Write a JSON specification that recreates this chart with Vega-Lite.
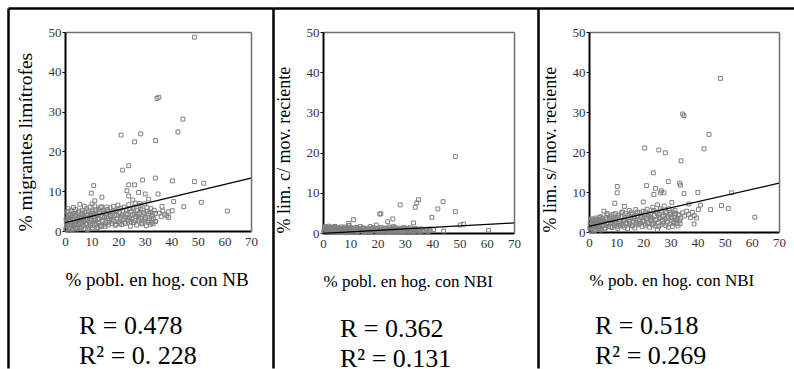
{
  "$schema": "https://vega.github.io/schema/vega-lite/v6.json",
  "padding": {"left": 5, "top": 8, "right": 0, "bottom": 0},
  "background": "white",
  "bounds": "flush",
  "spacing": 0,
  "config": {
    "view": {"stroke": null},
    "font": "Liberation Serif",
    "axis": {"grid": false, "labelFont": "Liberation Serif", "titleFont": "Liberation Serif", "labelFlush": false, "labelOverlap": false, "titleFontWeight": "normal", "titleColor": "black", "labelColor": "#333333"},
    "title": {"font": "Liberation Serif"}
  },
  "datasets": {
    "p1": [
      {"x":0.3,"y":0.5},{"x":0.5,"y":2.1},{"x":0.6,"y":3.8},{"x":0.8,"y":1.2},{"x":1.0,"y":4.9},{"x":1.1,"y":2.7},{"x":1.3,"y":0.3},{"x":1.5,"y":3.3},{"x":1.6,"y":1.8},{"x":1.8,"y":4.2},{"x":2.0,"y":0.9},{"x":2.1,"y":2.5},{"x":2.3,"y":5.1},{"x":2.5,"y":1.5},{"x":2.6,"y":3.6},{"x":2.8,"y":0.4},{"x":3.0,"y":2.9},{"x":3.1,"y":4.5},{"x":3.3,"y":1.1},{"x":3.5,"y":2.2},{"x":3.7,"y":3.9},{"x":3.9,"y":0.7},{"x":4.0,"y":5.4},{"x":4.2,"y":1.9},{"x":4.4,"y":3.1},{"x":4.6,"y":2.4},{"x":4.8,"y":0.9},{"x":5.0,"y":4.6},
      {"x":5.2,"y":1.6},{"x":5.4,"y":3.4},{"x":5.6,"y":6.7},{"x":5.8,"y":2.7},{"x":6.0,"y":0.8},{"x":6.2,"y":4.0},{"x":6.4,"y":2.0},{"x":6.6,"y":5.2},{"x":6.8,"y":1.3},{"x":7.0,"y":3.6},{"x":7.2,"y":2.5},{"x":7.4,"y":4.8},{"x":7.6,"y":0.6},{"x":7.8,"y":3.0},{"x":8.0,"y":1.8},{"x":8.2,"y":5.6},{"x":8.4,"y":2.9},{"x":8.6,"y":4.2},{"x":8.8,"y":1.0},{"x":9.0,"y":3.5},{"x":9.2,"y":2.2},{"x":9.4,"y":6.0},{"x":9.6,"y":1.5},{"x":9.8,"y":4.5},
      {"x":10.1,"y":2.8},{"x":10.3,"y":0.9},{"x":10.5,"y":5.0},{"x":10.8,"y":3.7},{"x":11.0,"y":1.9},{"x":11.2,"y":6.3},{"x":11.4,"y":2.6},{"x":11.7,"y":4.1},{"x":12.0,"y":0.8},{"x":12.2,"y":3.2},{"x":12.5,"y":5.4},{"x":12.7,"y":2.1},{"x":13.0,"y":4.6},{"x":13.2,"y":1.4},{"x":13.5,"y":3.8},{"x":13.8,"y":6.1},{"x":14.0,"y":2.4},{"x":14.3,"y":5.0},{"x":14.6,"y":1.7},{"x":14.9,"y":3.4},
      {"x":15.2,"y":4.4},{"x":15.4,"y":2.0},{"x":15.7,"y":6.0},{"x":16.0,"y":3.1},{"x":16.3,"y":1.5},{"x":16.5,"y":4.9},{"x":16.8,"y":2.7},{"x":17.0,"y":5.8},{"x":17.3,"y":3.6},{"x":17.6,"y":1.9},{"x":17.9,"y":4.3},{"x":18.2,"y":6.2},{"x":18.4,"y":2.5},{"x":18.7,"y":3.9},{"x":19.0,"y":5.1},{"x":19.3,"y":1.7},{"x":19.6,"y":3.0},{"x":19.9,"y":6.5},
      {"x":20.2,"y":2.3},{"x":20.5,"y":4.6},{"x":20.8,"y":3.4},{"x":21.0,"y":5.7},{"x":21.3,"y":1.6},{"x":21.6,"y":4.0},{"x":21.9,"y":2.8},{"x":22.2,"y":6.0},{"x":22.5,"y":3.5},{"x":22.8,"y":1.9},{"x":23.1,"y":5.2},{"x":23.4,"y":4.1},{"x":23.7,"y":2.6},{"x":24.0,"y":6.6},{"x":24.3,"y":3.3},{"x":24.6,"y":1.2},{"x":24.9,"y":4.8},
      {"x":25.2,"y":3.0},{"x":25.5,"y":5.6},{"x":25.8,"y":2.1},{"x":26.1,"y":4.3},{"x":26.4,"y":7.0},{"x":26.7,"y":3.7},{"x":27.0,"y":1.5},{"x":27.3,"y":5.1},{"x":27.6,"y":2.8},{"x":27.9,"y":4.5},{"x":28.2,"y":6.4},{"x":28.5,"y":3.2},{"x":28.8,"y":1.8},{"x":29.1,"y":5.3},{"x":29.4,"y":2.5},{"x":29.7,"y":4.0},{"x":30.0,"y":6.8},
      {"x":30.3,"y":3.4},{"x":30.6,"y":1.3},{"x":30.9,"y":5.0},{"x":31.2,"y":2.6},{"x":31.5,"y":4.4},{"x":31.8,"y":3.0},{"x":32.1,"y":1.7},{"x":32.4,"y":5.6},{"x":32.7,"y":2.2},{"x":33.0,"y":4.0},{"x":33.3,"y":3.1},{"x":33.6,"y":5.2},{"x":34.0,"y":2.4},
      {"x":35.5,"y":4.5},{"x":36.2,"y":3.6},{"x":36.8,"y":5.0},{"x":37.5,"y":4.2},{"x":38.3,"y":3.8},{"x":39.0,"y":4.8},
      {"x":0.4,"y":3.0},{"x":0.9,"y":2.4},{"x":1.2,"y":5.6},{"x":1.7,"y":0.8},{"x":2.2,"y":3.9},{"x":2.7,"y":2.0},{"x":3.2,"y":5.9},{"x":3.6,"y":1.6},{"x":4.1,"y":4.3},{"x":4.5,"y":0.5},{"x":4.9,"y":2.8},{"x":5.3,"y":5.0},{"x":5.7,"y":1.1},{"x":6.1,"y":3.2},{"x":6.5,"y":4.5},{"x":6.9,"y":2.3},{"x":7.3,"y":6.2},{"x":7.7,"y":1.9},{"x":8.1,"y":3.9},{"x":8.5,"y":0.4},{"x":8.9,"y":5.0},{"x":9.3,"y":2.7},{"x":9.7,"y":3.9},{"x":10.2,"y":1.4},{"x":10.6,"y":4.4},{"x":11.1,"y":3.1},{"x":11.5,"y":5.3},{"x":11.9,"y":1.5},{"x":12.4,"y":4.0},{"x":12.9,"y":2.9},{"x":13.3,"y":5.9},{"x":13.7,"y":1.1},{"x":14.2,"y":3.6},{"x":14.7,"y":4.7},{"x":15.1,"y":1.2},{"x":15.5,"y":3.5},{"x":16.1,"y":5.4},{"x":16.6,"y":2.2},{"x":17.1,"y":4.0},{"x":17.7,"y":2.9},{"x":18.3,"y":4.8},{"x":18.9,"y":1.4},{"x":19.4,"y":4.2},{"x":20.0,"y":5.5},{"x":20.6,"y":1.9},{"x":21.2,"y":3.8},{"x":21.8,"y":5.0},{"x":22.4,"y":2.2},{"x":23.0,"y":4.4},{"x":23.6,"y":3.0},{"x":24.2,"y":5.6},{"x":24.8,"y":2.4},{"x":25.4,"y":4.1},{"x":26.0,"y":6.0},{"x":26.6,"y":2.6},{"x":27.2,"y":4.2},{"x":27.8,"y":3.5},{"x":28.4,"y":5.5},{"x":29.0,"y":2.0},{"x":29.6,"y":4.6},{"x":30.2,"y":3.0},{"x":30.8,"y":5.9},{"x":31.4,"y":2.2},{"x":32.0,"y":4.8},{"x":32.6,"y":3.6},{"x":33.2,"y":1.8},{"x":33.9,"y":4.4},
      {"x":48.7,"y":48.7},{"x":35.3,"y":33.6},{"x":34.6,"y":33.3},{"x":44.4,"y":28.1},{"x":21.1,"y":24.1},{"x":28.5,"y":24.4},{"x":26.2,"y":22.4},{"x":34.1,"y":22.7},{"x":42.5,"y":24.9},{"x":24.0,"y":16.4},{"x":21.7,"y":15.3},{"x":29.2,"y":12.8},{"x":34.0,"y":13.3},{"x":40.4,"y":12.6},{"x":48.7,"y":12.4},{"x":52.2,"y":12.0},{"x":10.8,"y":11.4},{"x":24.0,"y":11.6},{"x":26.2,"y":11.6},{"x":30.2,"y":9.3},{"x":9.9,"y":9.5},{"x":13.9,"y":8.5},{"x":27.7,"y":9.7},{"x":35.0,"y":9.3},{"x":40.9,"y":7.4},{"x":44.7,"y":6.1},{"x":51.3,"y":7.2},{"x":61.1,"y":5.0},{"x":40.3,"y":5.1},{"x":39.0,"y":3.4},{"x":34.0,"y":2.4},{"x":12.4,"y":0.9},{"x":23.3,"y":10.1},{"x":24.0,"y":8.8},{"x":11.2,"y":7.6},{"x":10.2,"y":6.8},{"x":25.5,"y":7.8},{"x":31.5,"y":8.0},{"x":28.0,"y":6.9},{"x":36.5,"y":6.2}
    ],
    "p2": [
      {"x":0.3,"y":0.2},{"x":0.5,"y":1.1},{"x":0.7,"y":0.5},{"x":0.9,"y":1.6},{"x":1.1,"y":0.1},{"x":1.3,"y":0.8},{"x":1.5,"y":1.3},{"x":1.7,"y":0.3},{"x":1.9,"y":0.9},{"x":2.1,"y":1.7},{"x":2.3,"y":0.4},{"x":2.5,"y":1.0},{"x":2.7,"y":0.2},{"x":2.9,"y":1.4},{"x":3.1,"y":0.6},{"x":3.3,"y":1.2},{"x":3.5,"y":0.1},{"x":3.7,"y":0.7},{"x":3.9,"y":1.5},{"x":4.1,"y":0.3},{"x":4.3,"y":1.0},{"x":4.5,"y":0.5},{"x":4.7,"y":1.3},{"x":4.9,"y":0.2},
      {"x":5.2,"y":0.8},{"x":5.5,"y":1.4},{"x":5.8,"y":0.3},{"x":6.1,"y":1.0},{"x":6.4,"y":0.6},{"x":6.7,"y":1.5},{"x":7.0,"y":0.2},{"x":7.3,"y":0.9},{"x":7.6,"y":1.2},{"x":7.9,"y":0.4},{"x":8.2,"y":1.1},{"x":8.5,"y":0.1},{"x":8.8,"y":0.7},{"x":9.1,"y":1.3},{"x":9.4,"y":0.5},{"x":9.7,"y":0.9},
      {"x":10.0,"y":0.3},{"x":10.4,"y":1.2},{"x":10.8,"y":0.6},{"x":11.2,"y":1.0},{"x":11.6,"y":0.2},{"x":12.0,"y":0.8},{"x":12.4,"y":1.4},{"x":12.8,"y":0.4},{"x":13.2,"y":0.9},{"x":13.6,"y":0.1},{"x":14.0,"y":0.7},{"x":14.4,"y":1.1},{"x":14.8,"y":0.3},
      {"x":15.2,"y":0.9},{"x":15.6,"y":0.5},{"x":16.0,"y":1.2},{"x":16.4,"y":0.2},{"x":16.8,"y":0.8},{"x":17.2,"y":1.0},{"x":17.6,"y":0.4},{"x":18.0,"y":0.7},{"x":18.4,"y":1.3},{"x":18.8,"y":0.2},{"x":19.2,"y":0.9},{"x":19.6,"y":0.5},
      {"x":20.0,"y":1.1},{"x":20.4,"y":0.3},{"x":20.8,"y":0.8},{"x":21.2,"y":1.4},{"x":21.6,"y":0.5},{"x":22.0,"y":1.0},{"x":22.4,"y":0.2},{"x":22.8,"y":0.7},{"x":23.2,"y":1.2},{"x":23.6,"y":0.4},{"x":24.0,"y":0.9},{"x":24.4,"y":1.5},{"x":24.8,"y":0.3},
      {"x":25.2,"y":0.8},{"x":25.6,"y":1.1},{"x":26.0,"y":0.5},{"x":26.4,"y":1.3},{"x":26.8,"y":0.2},{"x":27.2,"y":0.9},{"x":27.6,"y":0.6},{"x":28.0,"y":1.2},{"x":28.4,"y":0.3},{"x":28.8,"y":1.0},{"x":29.2,"y":0.7},{"x":29.6,"y":1.4},{"x":30.0,"y":0.4},
      {"x":30.4,"y":0.9},{"x":30.8,"y":1.2},{"x":31.2,"y":0.5},{"x":31.6,"y":0.8},{"x":32.0,"y":1.3},{"x":32.4,"y":0.2},{"x":32.8,"y":0.7},{"x":33.2,"y":1.0},{"x":33.6,"y":0.4},{"x":34.0,"y":1.1},{"x":34.5,"y":0.6},{"x":35.0,"y":0.9},{"x":35.6,"y":0.3},{"x":36.2,"y":1.0},{"x":37.0,"y":0.5},{"x":37.8,"y":0.8},{"x":38.5,"y":0.3},{"x":39.3,"y":0.6},
      {"x":0.4,"y":0.6},{"x":0.8,"y":1.3},{"x":1.2,"y":0.4},{"x":1.6,"y":1.0},{"x":2.0,"y":0.2},{"x":2.4,"y":1.4},{"x":2.8,"y":0.7},{"x":3.2,"y":0.1},{"x":3.6,"y":1.1},{"x":4.0,"y":0.6},{"x":4.4,"y":1.6},{"x":4.8,"y":0.9},{"x":5.4,"y":0.3},{"x":5.9,"y":1.2},{"x":6.3,"y":0.5},{"x":6.9,"y":1.0},{"x":7.4,"y":0.3},{"x":7.8,"y":1.5},{"x":8.3,"y":0.6},{"x":8.7,"y":1.0},{"x":9.3,"y":0.2},{"x":9.9,"y":1.3},{"x":10.6,"y":0.5},{"x":11.4,"y":1.3},{"x":12.2,"y":0.3},{"x":12.9,"y":1.1},{"x":13.8,"y":0.6},{"x":14.6,"y":1.3},{"x":15.4,"y":0.3},{"x":16.2,"y":0.8},{"x":17.0,"y":0.4},{"x":17.8,"y":1.1},{"x":18.6,"y":0.6},{"x":19.4,"y":1.2},{"x":20.2,"y":0.4},{"x":21.0,"y":1.0},{"x":21.8,"y":0.3},{"x":22.6,"y":1.2},{"x":23.4,"y":0.7},{"x":24.2,"y":0.3},{"x":25.0,"y":1.2},{"x":25.8,"y":0.4},{"x":26.6,"y":0.9},{"x":27.4,"y":0.3},{"x":28.2,"y":0.8},{"x":29.0,"y":0.4},{"x":29.8,"y":1.1},{"x":30.6,"y":0.2},{"x":31.4,"y":1.0},{"x":32.2,"y":0.6},{"x":33.0,"y":0.3},{"x":33.8,"y":0.8},{"x":35.3,"y":0.5},{"x":36.6,"y":0.7},
      {"x":48.5,"y":19.0},{"x":28.3,"y":7.0},{"x":33.8,"y":6.4},{"x":34.4,"y":7.5},{"x":35.0,"y":8.3},{"x":44.0,"y":7.8},{"x":42.1,"y":6.0},{"x":48.5,"y":5.3},{"x":39.9,"y":3.9},{"x":20.8,"y":4.7},{"x":21.2,"y":4.8},{"x":11.2,"y":3.3},{"x":23.7,"y":2.8},{"x":25.6,"y":3.5},{"x":9.4,"y":2.4},{"x":33.2,"y":2.5},{"x":51.5,"y":2.2},{"x":50.3,"y":2.0},{"x":60.7,"y":0.7},{"x":44.2,"y":0.5},{"x":40.5,"y":0.8},{"x":38.9,"y":1.0},{"x":13.7,"y":1.6},{"x":17.3,"y":1.6},{"x":19.5,"y":2.0},{"x":25.9,"y":1.6},{"x":9.6,"y":1.9}
    ],
    "p3": [
      {"x":0.3,"y":1.0},{"x":0.5,"y":2.6},{"x":0.7,"y":0.4},{"x":0.9,"y":3.3},{"x":1.1,"y":1.7},{"x":1.3,"y":2.2},{"x":1.5,"y":0.8},{"x":1.7,"y":3.0},{"x":1.9,"y":1.4},{"x":2.1,"y":2.7},{"x":2.3,"y":0.6},{"x":2.5,"y":3.5},{"x":2.7,"y":1.9},{"x":2.9,"y":1.1},{"x":3.1,"y":2.4},{"x":3.3,"y":3.1},{"x":3.5,"y":0.9},{"x":3.7,"y":2.0},{"x":3.9,"y":3.7},{"x":4.1,"y":1.3},{"x":4.3,"y":2.8},{"x":4.5,"y":0.5},{"x":4.7,"y":2.3},{"x":4.9,"y":3.4},
      {"x":5.2,"y":1.6},{"x":5.5,"y":5.2},{"x":5.8,"y":2.5},{"x":6.1,"y":1.0},{"x":6.4,"y":3.6},{"x":6.7,"y":2.1},{"x":7.0,"y":4.3},{"x":7.3,"y":1.4},{"x":7.6,"y":3.0},{"x":7.9,"y":2.4},{"x":8.2,"y":4.0},{"x":8.5,"y":1.1},{"x":8.8,"y":2.8},{"x":9.1,"y":3.5},{"x":9.4,"y":1.7},{"x":9.7,"y":4.6},
      {"x":10.0,"y":2.2},{"x":10.3,"y":3.2},{"x":10.6,"y":0.9},{"x":10.9,"y":4.2},{"x":11.2,"y":2.6},{"x":11.5,"y":1.5},{"x":11.8,"y":3.8},{"x":12.1,"y":2.0},{"x":12.4,"y":5.0},{"x":12.7,"y":2.9},{"x":13.0,"y":1.2},{"x":13.3,"y":3.5},{"x":13.6,"y":4.6},{"x":13.9,"y":2.3},{"x":14.2,"y":0.8},{"x":14.5,"y":3.1},{"x":14.8,"y":5.4},
      {"x":15.1,"y":2.0},{"x":15.4,"y":3.7},{"x":15.7,"y":1.5},{"x":16.0,"y":4.4},{"x":16.3,"y":2.7},{"x":16.6,"y":3.3},{"x":16.9,"y":1.0},{"x":17.2,"y":5.6},{"x":17.5,"y":2.4},{"x":17.8,"y":4.0},{"x":18.1,"y":1.8},{"x":18.4,"y":3.0},{"x":18.7,"y":4.8},{"x":19.0,"y":2.2},{"x":19.3,"y":3.6},{"x":19.6,"y":1.3},{"x":19.9,"y":5.2},
      {"x":20.2,"y":2.8},{"x":20.5,"y":4.2},{"x":20.8,"y":1.7},{"x":21.1,"y":3.4},{"x":21.4,"y":5.7},{"x":21.7,"y":2.3},{"x":22.0,"y":3.9},{"x":22.3,"y":1.2},{"x":22.6,"y":4.6},{"x":22.9,"y":2.9},{"x":23.2,"y":3.5},{"x":23.5,"y":6.2},{"x":23.8,"y":2.0},{"x":24.1,"y":4.1},{"x":24.4,"y":1.5},{"x":24.7,"y":5.0},
      {"x":25.0,"y":3.1},{"x":25.3,"y":6.8},{"x":25.6,"y":2.4},{"x":25.9,"y":4.4},{"x":26.2,"y":3.6},{"x":26.5,"y":1.8},{"x":26.8,"y":5.3},{"x":27.1,"y":2.7},{"x":27.4,"y":4.0},{"x":27.7,"y":6.5},{"x":28.0,"y":3.2},{"x":28.3,"y":1.6},{"x":28.6,"y":4.8},{"x":28.9,"y":2.5},{"x":29.2,"y":3.8},{"x":29.5,"y":5.8},{"x":29.8,"y":2.0},
      {"x":30.1,"y":4.4},{"x":30.4,"y":3.0},{"x":30.7,"y":1.4},{"x":31.0,"y":5.0},{"x":31.3,"y":2.6},{"x":31.6,"y":3.7},{"x":31.9,"y":4.6},{"x":32.2,"y":2.1},{"x":32.5,"y":3.4},{"x":32.8,"y":1.5},{"x":33.1,"y":4.2},{"x":33.4,"y":2.8},{"x":33.8,"y":3.5},
      {"x":34.5,"y":4.8},{"x":35.2,"y":4.0},{"x":36.0,"y":5.2},{"x":36.7,"y":4.4},{"x":37.4,"y":3.6},{"x":38.1,"y":4.9},{"x":38.8,"y":4.1},{"x":39.6,"y":3.5},{"x":40.3,"y":5.6},
      {"x":0.4,"y":1.8},{"x":0.8,"y":0.9},{"x":1.2,"y":3.0},{"x":1.6,"y":2.0},{"x":2.0,"y":0.3},{"x":2.4,"y":2.4},{"x":2.8,"y":3.2},{"x":3.2,"y":1.6},{"x":3.6,"y":2.9},{"x":4.0,"y":0.8},{"x":4.4,"y":3.8},{"x":4.8,"y":1.8},{"x":5.3,"y":2.9},{"x":5.7,"y":0.7},{"x":6.2,"y":3.1},{"x":6.6,"y":4.6},{"x":7.1,"y":2.0},{"x":7.5,"y":3.5},{"x":8.0,"y":1.3},{"x":8.4,"y":2.9},{"x":8.9,"y":4.4},{"x":9.3,"y":2.2},{"x":9.8,"y":3.1},{"x":10.2,"y":1.4},{"x":10.7,"y":3.6},{"x":11.3,"y":2.2},{"x":11.9,"y":4.8},{"x":12.5,"y":1.6},{"x":13.1,"y":3.0},{"x":13.7,"y":2.0},{"x":14.3,"y":4.1},{"x":14.9,"y":2.6},{"x":15.5,"y":4.8},{"x":16.1,"y":1.6},{"x":16.7,"y":3.9},{"x":17.3,"y":2.9},{"x":17.9,"y":5.0},{"x":18.5,"y":2.1},{"x":19.1,"y":4.2},{"x":19.7,"y":2.7},{"x":20.3,"y":3.6},{"x":20.9,"y":5.0},{"x":21.5,"y":2.0},{"x":22.1,"y":4.4},{"x":22.7,"y":3.2},{"x":23.3,"y":1.8},{"x":23.9,"y":5.4},{"x":24.5,"y":3.0},{"x":25.1,"y":4.6},{"x":25.7,"y":1.4},{"x":26.3,"y":5.8},{"x":26.9,"y":3.9},{"x":27.5,"y":2.2},{"x":28.1,"y":5.1},{"x":28.7,"y":3.5},{"x":29.3,"y":1.2},{"x":29.9,"y":4.8},{"x":30.5,"y":3.6},{"x":31.1,"y":2.2},{"x":31.7,"y":5.4},{"x":32.3,"y":3.0},{"x":32.9,"y":4.4},{"x":33.6,"y":2.1},
      {"x":48.4,"y":38.4},{"x":34.5,"y":29.5},{"x":35.0,"y":29.1},{"x":20.5,"y":21.0},{"x":25.7,"y":20.5},{"x":28.1,"y":19.8},{"x":42.4,"y":20.8},{"x":44.2,"y":24.4},{"x":33.9,"y":17.8},{"x":23.7,"y":14.8},{"x":29.2,"y":12.6},{"x":33.4,"y":12.2},{"x":10.4,"y":11.4},{"x":10.4,"y":9.8},{"x":21.2,"y":11.6},{"x":24.5,"y":10.9},{"x":26.7,"y":10.3},{"x":33.7,"y":11.7},{"x":35.0,"y":9.6},{"x":40.1,"y":9.9},{"x":26.4,"y":9.8},{"x":27.6,"y":9.8},{"x":23.9,"y":9.4},{"x":44.8,"y":5.6},{"x":48.8,"y":6.6},{"x":51.3,"y":5.9},{"x":52.5,"y":9.8},{"x":61.1,"y":3.7},{"x":41.1,"y":6.75},{"x":38.7,"y":2.0},{"x":25.2,"y":0.6},{"x":9.5,"y":7.2},{"x":13.0,"y":6.4},{"x":30.5,"y":7.4},{"x":36.8,"y":7.0},{"x":20.0,"y":7.5}
    ],
    "l1": [{"x":0,"y":2.1},{"x":70,"y":13.3}],
    "l2": [{"x":0,"y":-0.1},{"x":70,"y":2.5}],
    "l3": [{"x":0,"y":1.4},{"x":70,"y":12.2}]
  },
  "hconcat": [
    {
      "width": 265, "height": 360,
      "title": {"text": ["R = 0.478", "R² = 0. 228"], "font": "Liberation Serif", "orient": "bottom", "frame": "group", "anchor": "start", "align": "left", "dx": 71, "offset": -55, "fontSize": 26, "fontWeight": "normal", "color": "black", "lineHeight": 30},
      "resolve": {"scale": {"x": "independent", "y": "independent"}},
      "layer": [
        {
          "data": {"name": "p1"},
          "mark": {"type": "point", "shape": "square", "filled": false, "size": 15, "stroke": "#808080", "strokeWidth": 1, "opacity": 1},
          "encoding": {
            "x": {"field": "x", "type": "quantitative", "scale": {"domain": [0, 70], "range": [57, 243], "nice": false},
                  "axis": {"orient": "bottom", "offset": -137, "values": [0,10,20,30,40,50,60,70], "ticks": false, "labelFont": "Liberation Serif", "labelColor": "#333333", "labelPadding": 4, "labelFontSize": 13, "domainColor": "black", "domainWidth": 2, "title": "% pobl. en hog. con NB", "titleFont": "Liberation Serif", "titleFontSize": 19, "titlePadding": 22, "titleAnchor": "start"}},
            "y": {"field": "y", "type": "quantitative", "scale": {"domain": [0, 50], "range": [223, 24], "nice": false},
                  "axis": {"orient": "left", "offset": -57, "values": [0,10,20,30,40,50], "tickSize": 3, "tickColor": "black", "labelFont": "Liberation Serif", "labelColor": "#333333", "labelPadding": 1, "labelFontSize": 13, "domainColor": "black", "domainWidth": 2, "title": "% migrantes limítrofes", "titleFont": "Liberation Serif", "titleFontSize": 19.5, "titlePadding": 13, "titleAnchor": "start"}}
          }
        },
        {
          "data": {"name": "l1"},
          "mark": {"type": "line", "color": "black", "strokeWidth": 1.2},
          "encoding": {
            "x": {"field": "x", "type": "quantitative", "scale": {"domain": [0, 70], "range": [57, 243], "nice": false}, "axis": null},
            "y": {"field": "y", "type": "quantitative", "scale": {"domain": [0, 50], "range": [223, 24], "nice": false}, "axis": null}
          }
        },
        {
          "data": {"name": "l1"},
          "mark": {"type": "point", "opacity": 0},
          "encoding": {
            "x": {"field": "x", "type": "quantitative", "scale": {"domain": [0, 70], "range": [57, 243], "nice": false}, "axis": {"orient": "top", "offset": -24, "labels": false, "ticks": false, "title": null, "domainColor": "#6e6e6e", "domainWidth": 1.5}},
            "y": {"field": "y", "type": "quantitative", "scale": {"domain": [0, 50], "range": [223, 24], "nice": false}, "axis": {"orient": "right", "offset": -22, "labels": false, "ticks": false, "title": null, "domainColor": "#6e6e6e", "domainWidth": 1.5}}
          }
        },
        {
          "data": {"name": "l1"},
          "mark": {"type": "point", "opacity": 0},
          "encoding": {
            "x": {"field": "x", "type": "quantitative", "scale": {"domain": [0, 70], "nice": false}, "axis": {"orient": "top", "offset": 0, "labels": false, "ticks": false, "title": null, "domainColor": "black", "domainWidth": 2.5}},
            "y": {"field": "y", "type": "quantitative", "scale": {"domain": [0, 50], "nice": false}, "axis": {"orient": "left", "offset": 0, "labels": false, "ticks": false, "title": null, "domainColor": "black", "domainWidth": 2.5}}
          }
        }
      ]
    },
    {
      "width": 265, "height": 360,
      "title": {"text": ["R = 0.362", "R² = 0.131"], "font": "Liberation Serif", "orient": "bottom", "frame": "group", "anchor": "start", "align": "left", "dx": 67, "offset": -55, "fontSize": 26, "fontWeight": "normal", "color": "black", "lineHeight": 30},
      "resolve": {"scale": {"x": "independent", "y": "independent"}},
      "layer": [
        {
          "data": {"name": "p2"},
          "mark": {"type": "point", "shape": "square", "filled": false, "size": 15, "stroke": "#808080", "strokeWidth": 1, "opacity": 1},
          "encoding": {
            "x": {"field": "x", "type": "quantitative", "scale": {"domain": [0, 70], "range": [50, 241], "nice": false},
                  "axis": {"orient": "bottom", "offset": -135, "values": [0,10,20,30,40,50,60,70], "ticks": false, "labelFont": "Liberation Serif", "labelColor": "#333333", "labelPadding": 4, "labelFontSize": 13, "domainColor": "black", "domainWidth": 2, "title": "% pobl. en hog. con NBI", "titleFont": "Liberation Serif", "titleFontSize": 17, "titlePadding": 23, "titleAnchor": "start"}},
            "y": {"field": "y", "type": "quantitative", "scale": {"domain": [0, 50], "range": [225, 24], "nice": false},
                  "axis": {"orient": "left", "offset": -50, "values": [0,10,20,30,40,50], "tickSize": 3, "tickColor": "black", "labelFont": "Liberation Serif", "labelColor": "#333333", "labelPadding": 1, "labelFontSize": 13, "domainColor": "black", "domainWidth": 2, "title": "% lim. c/ mov. reciente", "titleFont": "Liberation Serif", "titleFontSize": 18, "titlePadding": 13, "titleAnchor": "start"}}
          }
        },
        {
          "data": {"name": "l2"},
          "mark": {"type": "line", "color": "black", "strokeWidth": 1.2},
          "encoding": {
            "x": {"field": "x", "type": "quantitative", "scale": {"domain": [0, 70], "range": [50, 241], "nice": false}, "axis": null},
            "y": {"field": "y", "type": "quantitative", "scale": {"domain": [0, 50], "range": [225, 24], "nice": false}, "axis": null}
          }
        },
        {
          "data": {"name": "l2"},
          "mark": {"type": "point", "opacity": 0},
          "encoding": {
            "x": {"field": "x", "type": "quantitative", "scale": {"domain": [0, 70], "range": [50, 241], "nice": false}, "axis": {"orient": "top", "offset": -24, "labels": false, "ticks": false, "title": null, "domainColor": "#6e6e6e", "domainWidth": 1.5}},
            "y": {"field": "y", "type": "quantitative", "scale": {"domain": [0, 50], "range": [225, 24], "nice": false}, "axis": {"orient": "right", "offset": -24, "labels": false, "ticks": false, "title": null, "domainColor": "#6e6e6e", "domainWidth": 1.5}}
          }
        },
        {
          "data": {"name": "l2"},
          "mark": {"type": "point", "opacity": 0},
          "encoding": {
            "x": {"field": "x", "type": "quantitative", "scale": {"domain": [0, 70], "nice": false}, "axis": {"orient": "top", "offset": 0, "labels": false, "ticks": false, "title": null, "domainColor": "black", "domainWidth": 2.5}},
            "y": {"field": "y", "type": "quantitative", "scale": {"domain": [0, 50], "nice": false}, "axis": {"orient": "left", "offset": 0, "labels": false, "ticks": false, "title": null, "domainColor": "black", "domainWidth": 2.5}}
          }
        }
      ]
    },
    {
      "width": 258, "height": 360,
      "title": {"text": ["R = 0.518", "R² = 0.269"], "font": "Liberation Serif", "orient": "bottom", "frame": "group", "anchor": "start", "align": "left", "dx": 57, "offset": -55, "fontSize": 26, "fontWeight": "normal", "color": "black", "lineHeight": 30},
      "resolve": {"scale": {"x": "independent", "y": "independent"}},
      "layer": [
        {
          "data": {"name": "p3"},
          "mark": {"type": "point", "shape": "square", "filled": false, "size": 15, "stroke": "#808080", "strokeWidth": 1, "opacity": 1},
          "encoding": {
            "x": {"field": "x", "type": "quantitative", "scale": {"domain": [0, 70], "range": [51, 241], "nice": false},
                  "axis": {"orient": "bottom", "offset": -136, "values": [0,10,20,30,40,50,60,70], "ticks": false, "labelFont": "Liberation Serif", "labelColor": "#333333", "labelPadding": 4, "labelFontSize": 13, "domainColor": "black", "domainWidth": 2, "title": "% pob. en hog. con NBI", "titleFont": "Liberation Serif", "titleFontSize": 17, "titlePadding": 23, "titleAnchor": "start"}},
            "y": {"field": "y", "type": "quantitative", "scale": {"domain": [0, 50], "range": [224, 24], "nice": false},
                  "axis": {"orient": "left", "offset": -51, "values": [0,10,20,30,40,50], "tickSize": 3, "tickColor": "black", "labelFont": "Liberation Serif", "labelColor": "#333333", "labelPadding": 1, "labelFontSize": 13, "domainColor": "black", "domainWidth": 2, "title": "% lim. s/ mov. reciente", "titleFont": "Liberation Serif", "titleFontSize": 18, "titlePadding": 13, "titleAnchor": "start"}}
          }
        },
        {
          "data": {"name": "l3"},
          "mark": {"type": "line", "color": "black", "strokeWidth": 1.2},
          "encoding": {
            "x": {"field": "x", "type": "quantitative", "scale": {"domain": [0, 70], "range": [51, 241], "nice": false}, "axis": null},
            "y": {"field": "y", "type": "quantitative", "scale": {"domain": [0, 50], "range": [224, 24], "nice": false}, "axis": null}
          }
        },
        {
          "data": {"name": "l3"},
          "mark": {"type": "point", "opacity": 0},
          "encoding": {
            "x": {"field": "x", "type": "quantitative", "scale": {"domain": [0, 70], "range": [51, 241], "nice": false}, "axis": {"orient": "top", "offset": -24, "labels": false, "ticks": false, "title": null, "domainColor": "#6e6e6e", "domainWidth": 1.5}},
            "y": {"field": "y", "type": "quantitative", "scale": {"domain": [0, 50], "range": [224, 24], "nice": false}, "axis": {"orient": "right", "offset": -17, "labels": false, "ticks": false, "title": null, "domainColor": "#6e6e6e", "domainWidth": 1.5}}
          }
        },
        {
          "data": {"name": "l3"},
          "mark": {"type": "point", "opacity": 0},
          "encoding": {
            "x": {"field": "x", "type": "quantitative", "scale": {"domain": [0, 70], "nice": false}, "axis": {"orient": "top", "offset": 0, "labels": false, "ticks": false, "title": null, "domainColor": "black", "domainWidth": 2.5}},
            "y": {"field": "y", "type": "quantitative", "scale": {"domain": [0, 50], "nice": false}, "axis": {"orient": "left", "offset": 0, "labels": false, "ticks": false, "title": null, "domainColor": "black", "domainWidth": 2.5}}
          }
        }
      ]
    }
  ]
}
